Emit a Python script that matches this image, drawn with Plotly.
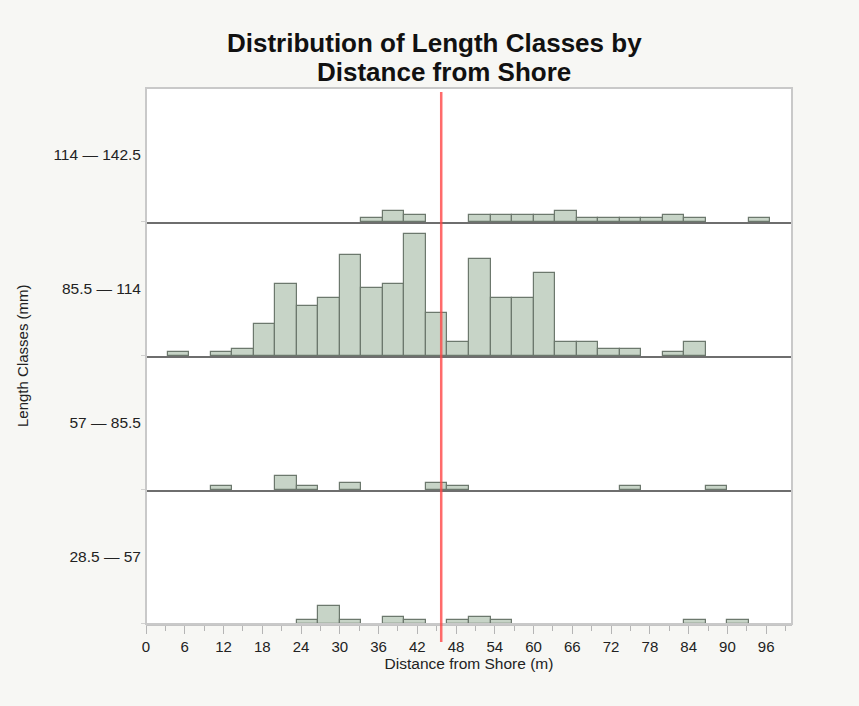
import plotly.graph_objects as go
from plotly.subplots import make_subplots

# Bin lower edges (m), bins are 10/3 m wide, 0..100
bin_starts = [0.0, 3.333, 6.667, 10.0, 13.333, 16.667, 20.0, 23.333, 26.667, 30.0,
              33.333, 36.667, 40.0, 43.333, 46.667, 50.0, 53.333, 56.667, 60.0, 63.333,
              66.667, 70.0, 73.333, 76.667, 80.0, 83.333, 86.667, 90.0, 93.333, 96.667]
bin_width = 3.333

class_labels = ["114 \u2014 142.5", "85.5 \u2014 114", "57 \u2014 85.5", "28.5 \u2014 57"]

counts_114_142 = [0, 0, 0, 0, 0, 0, 0, 0, 0, 0, 1, 3, 2, 0, 0, 2, 2, 2, 2, 3, 1, 1, 1, 1, 2, 1, 0, 0, 1, 0]
counts_85_114 = [0, 1, 0, 1, 2, 9, 20, 14, 16, 28, 19, 20, 34, 12, 4, 27, 16, 16, 23, 4, 4, 2, 2, 0, 1, 4, 0, 0, 0, 0]
counts_57_85 = [0, 0, 0, 1, 0, 0, 4, 1, 0, 2, 0, 0, 0, 2, 1, 0, 0, 0, 0, 0, 0, 0, 1, 0, 0, 0, 1, 0, 0, 0]
counts_28_57 = [0, 0, 0, 0, 0, 0, 0, 1, 5, 1, 0, 2, 1, 0, 1, 2, 1, 0, 0, 0, 0, 0, 0, 0, 0, 1, 0, 1, 0, 0]

mean_distance = 45.7

title_lines = ["Distribution of Length Classes by", "Distance from Shore"]

all_counts = [counts_114_142, counts_85_114, counts_57_85, counts_28_57]

FONT = "Liberation Sans, Arial, Helvetica, sans-serif"
BAR_FILL = "#c7d4c7"
BAR_LINE = "#6c786d"
Y_MAX = 37.2

# geometry (pixels)
W, H = 859, 706
PL, PR, PT, PB = 146, 792, 88, 624
pw, ph = PR - PL, PB - PT


def px_x(x):
    return (x - PL) / pw


def px_y(y):
    return (PB - y) / ph


fig = make_subplots(rows=4, cols=1, shared_xaxes=True, vertical_spacing=0)

centers = [s + bin_width / 2 for s in bin_starts]
for i, (lab, vals) in enumerate(zip(class_labels, all_counts)):
    r = i + 1
    fig.add_trace(go.Bar(
        x=centers,
        y=[v if v else None for v in vals],
        width=bin_width,
        marker=dict(color=BAR_FILL, line=dict(color=BAR_LINE, width=1.2)),
        showlegend=False,
        name=lab,
    ), row=r, col=1)
    fig.update_yaxes(range=[0, Y_MAX], tickvals=[Y_MAX / 2], ticktext=[lab],
                     ticks="", showgrid=False, zeroline=False, showline=False,
                     ticklabelstandoff=4,
                     tickfont=dict(size=15.5, color="#222222", family=FONT), row=r, col=1)
    if r < 4:
        fig.update_xaxes(range=[0, 100], showline=True, linecolor="#6e6e6e", linewidth=2,
                         ticks="", showticklabels=False, showgrid=False, zeroline=False,
                         row=r, col=1)
    else:
        fig.update_xaxes(range=[0, 100], showline=True, linecolor="#c4c4c4", linewidth=1.5,
                         ticks="outside", ticklen=8, tickwidth=1, tickcolor="#b5b5b5",
                         tick0=0, dtick=6, showgrid=False, zeroline=False,
                         minor=dict(dtick=3, tick0=0, ticks="outside", ticklen=5,
                                    tickcolor="#b5b5b5", tickwidth=1, showgrid=False),
                         tickfont=dict(size=15, color="#222222", family=FONT),
                         title=dict(text="Distance from Shore (m)", standoff=2,
                                    font=dict(size=15.5, color="#222222", family=FONT)),
                         row=r, col=1)
    # small left ticks at panel baselines
    yref = "y" if r == 1 else f"y{r}"
    fig.add_shape(type="line", xref="paper", yref=yref, x0=-5 / pw, x1=0, y0=0, y1=0,
                  line=dict(color="#c4c4c4", width=1.5), layer="above")

# plot border
fig.add_shape(type="rect", xref="paper", yref="paper", x0=0, x1=1, y0=0, y1=1,
              line=dict(color="#c9c9c9", width=2), layer="above")

# mean line
fig.add_shape(type="line", xref="x", yref="paper", x0=mean_distance, x1=mean_distance,
              y0=px_y(642), y1=px_y(92), line=dict(color="rgba(255,70,70,0.8)", width=2.5),
              layer="above")

fig.add_annotation(text="Length Classes (mm)", xref="paper", yref="paper",
                   x=px_x(22), y=0.5, textangle=-90, showarrow=False,
                   xanchor="center", yanchor="middle",
                   font=dict(size=15, color="#222222", family=FONT))

# title (two centred bold lines)
for txt, cx, cy in zip(title_lines, [434, 444], [42.5, 72.2]):
    fig.add_annotation(text=f"<b>{txt}</b>", xref="paper", yref="paper",
                       x=px_x(cx), y=px_y(cy), showarrow=False,
                       xanchor="center", yanchor="middle",
                       font=dict(size=26, color="#111111", family=FONT))

fig.update_layout(
    width=W, height=H,
    margin=dict(l=PL, r=W - PR, t=PT, b=H - PB),
    paper_bgcolor="#f7f7f4",
    plot_bgcolor="#ffffff",
    bargap=0,
    font=dict(family=FONT),
)

fig.write_html("out.html")
